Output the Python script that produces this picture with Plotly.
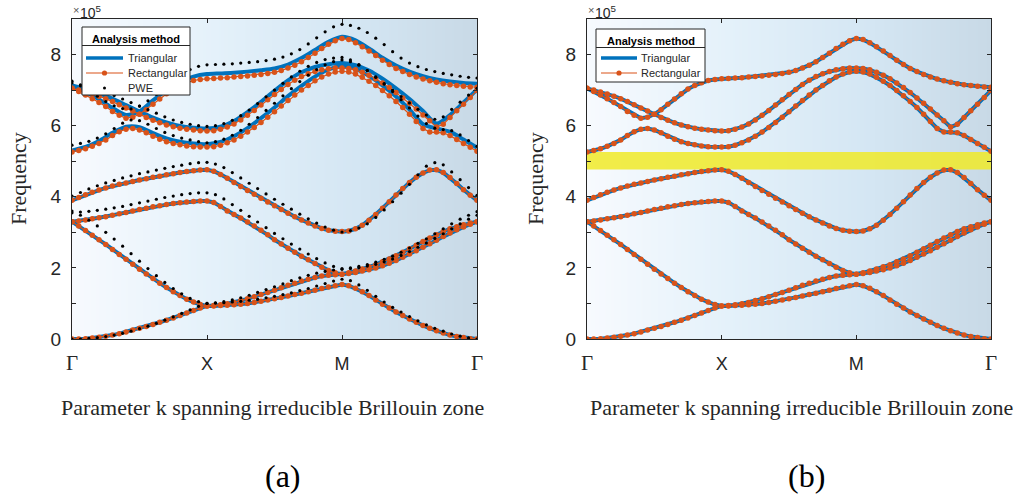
import numpy as np
import plotly.graph_objects as go

W, H = 1036, 501

# ---------------- data (frequencies in units of 1e5) ----------------
# k-path sampling: 0 = Gamma, 1 = X, 2 = M, 3 = Gamma
K_FINE = np.round(np.arange(61) * 0.05, 4)
K_TRI = np.round(np.arange(31) * 0.1, 4)
K_PWE = np.round(np.arange(49) / 16.0, 4)

tick_pos = [0, 1, 2, 3]
tick_names = ["Γ", "X", "M", "Γ"]
freq_major = [0, 2, 4, 6, 8]
freq_labels = ["0", "2", "4", "6", "8"]
freq_minor = [1, 3, 5, 7, 9]
gap_low, gap_high = 4.77, 5.26

# Rectangular-element bands (same in both panels)
rect_b1 = [0.00, 0.00, 0.01, 0.03, 0.05, 0.08, 0.11, 0.15, 0.20, 0.25, 0.30, 0.35, 0.41, 0.47, 0.53, 0.59, 0.66, 0.73, 0.80, 0.87, 0.93,
           0.93, 0.94, 0.95, 0.96, 0.98, 1.00, 1.03, 1.06, 1.10, 1.13, 1.17, 1.21, 1.25, 1.29, 1.33, 1.37, 1.42, 1.46, 1.50, 1.53,
           1.50, 1.43, 1.33, 1.22, 1.10, 0.98, 0.87, 0.76, 0.66, 0.56, 0.47, 0.38, 0.30, 0.23, 0.17, 0.11, 0.07, 0.04, 0.01, 0.00]
rect_b2 = [3.30, 3.18, 3.05, 2.92, 2.79, 2.66, 2.52, 2.38, 2.24, 2.10, 1.96, 1.83, 1.70, 1.57, 1.45, 1.33, 1.22, 1.12, 1.04, 0.97, 0.93,
           0.94, 0.96, 0.99, 1.03, 1.08, 1.13, 1.19, 1.25, 1.31, 1.37, 1.44, 1.51, 1.57, 1.63, 1.68, 1.73, 1.77, 1.79, 1.81, 1.82,
           1.84, 1.87, 1.91, 1.95, 2.00, 2.06, 2.13, 2.21, 2.30, 2.39, 2.48, 2.58, 2.68, 2.78, 2.88, 2.98, 3.07, 3.15, 3.23, 3.30]
rect_b3 = [3.30, 3.32, 3.35, 3.38, 3.41, 3.44, 3.48, 3.52, 3.56, 3.60, 3.64, 3.68, 3.72, 3.75, 3.78, 3.81, 3.83, 3.85, 3.87, 3.88, 3.88,
           3.84, 3.73, 3.60, 3.50, 3.40, 3.29, 3.18, 3.06, 2.93, 2.79, 2.67, 2.55, 2.44, 2.33, 2.23, 2.12, 2.02, 1.93, 1.86, 1.82,
           1.86, 1.91, 1.97, 2.03, 2.09, 2.17, 2.25, 2.34, 2.44, 2.54, 2.64, 2.74, 2.84, 2.93, 3.02, 3.10, 3.16, 3.21, 3.26, 3.30]
rect_b4 = [3.90, 3.98, 4.06, 4.13, 4.19, 4.25, 4.30, 4.35, 4.39, 4.43, 4.47, 4.51, 4.55, 4.58, 4.62, 4.65, 4.68, 4.71, 4.73, 4.75, 4.76,
           4.72, 4.63, 4.52, 4.40, 4.29, 4.18, 4.07, 3.96, 3.85, 3.75, 3.64, 3.54, 3.44, 3.35, 3.26, 3.18, 3.11, 3.06, 3.03, 3.02,
           3.04, 3.10, 3.20, 3.34, 3.50, 3.68, 3.86, 4.05, 4.23, 4.40, 4.55, 4.67, 4.75, 4.76, 4.68, 4.54, 4.37, 4.20, 4.04, 3.90]
rect_b5 = [5.26, 5.30, 5.35, 5.42, 5.50, 5.60, 5.72, 5.83, 5.90, 5.92, 5.88, 5.80, 5.70, 5.62, 5.55, 5.50, 5.46, 5.43, 5.41, 5.40, 5.40,
           5.41, 5.45, 5.52, 5.60, 5.70, 5.82, 5.95, 6.09, 6.24, 6.39, 6.55, 6.71, 6.86, 7.00, 7.13, 7.26, 7.37, 7.45, 7.51, 7.53,
           7.51, 7.45, 7.36, 7.25, 7.13, 6.99, 6.84, 6.68, 6.51, 6.32, 6.12, 5.92, 5.82, 5.82, 5.80, 5.72, 5.61, 5.50, 5.39, 5.28]
rect_b6 = [7.05, 7.00, 6.95, 6.89, 6.83, 6.76, 6.68, 6.59, 6.50, 6.41, 6.32, 6.23, 6.15, 6.08, 6.02, 5.97, 5.93, 5.90, 5.88, 5.86, 5.85,
           5.86, 5.90, 5.96, 6.05, 6.16, 6.29, 6.43, 6.58, 6.73, 6.88, 7.02, 7.16, 7.28, 7.38, 7.46, 7.52, 7.57, 7.60, 7.62, 7.62,
           7.61, 7.57, 7.50, 7.42, 7.32, 7.20, 7.07, 6.93, 6.78, 6.63, 6.47, 6.30, 6.14, 5.96, 6.04, 6.23, 6.42, 6.60, 6.79, 6.99]
rect_b7 = [7.05, 6.96, 6.86, 6.76, 6.65, 6.54, 6.40, 6.29, 6.21, 6.24, 6.32, 6.45, 6.60, 6.75, 6.90, 7.03, 7.13, 7.21, 7.27, 7.30, 7.32,
           7.33, 7.34, 7.35, 7.37, 7.38, 7.40, 7.42, 7.44, 7.47, 7.50, 7.55, 7.62, 7.70, 7.80, 7.92, 8.04, 8.17, 8.29, 8.39, 8.45,
           8.42, 8.33, 8.22, 8.10, 7.97, 7.84, 7.72, 7.61, 7.52, 7.44, 7.37, 7.31, 7.26, 7.22, 7.18, 7.15, 7.13, 7.11, 7.09, 7.08]

# Triangular-element upper bands in panel (a) (lower bands coincide with rect)
tri_a_b5 = [5.30, 5.40, 5.57, 5.80, 5.97, 5.96, 5.79, 5.64, 5.55, 5.50, 5.48,
            5.54, 5.70, 5.93, 6.21, 6.51, 6.83, 7.12, 7.38, 7.58, 7.68,
            7.60, 7.40, 7.13, 6.82, 6.45, 6.04, 5.92, 5.83, 5.61, 5.38]
tri_a_b6 = [7.13, 7.03, 6.91, 6.76, 6.58, 6.40, 6.23, 6.09, 5.99, 5.94, 5.92,
            5.97, 6.13, 6.38, 6.67, 6.98, 7.27, 7.50, 7.65, 7.73, 7.76,
            7.70, 7.55, 7.32, 7.05, 6.75, 6.41, 6.06, 6.30, 6.65, 7.02]
tri_a_b7 = [7.13, 6.95, 6.74, 6.50, 6.30, 6.40, 6.71, 7.00, 7.24, 7.38, 7.45,
            7.47, 7.49, 7.52, 7.56, 7.61, 7.72, 7.90, 8.13, 8.36, 8.50,
            8.40, 8.17, 7.91, 7.69, 7.52, 7.39, 7.30, 7.24, 7.20, 7.18]

# PWE reference (panel a)
pwe_b1 = [0.00, 0.00, 0.02, 0.04, 0.07, 0.11, 0.16, 0.22, 0.29, 0.36, 0.44, 0.53, 0.62, 0.72, 0.82, 0.92, 1.00,
          1.01, 1.02, 1.04, 1.06, 1.09, 1.12, 1.16, 1.20, 1.25, 1.30, 1.36, 1.42, 1.49, 1.56, 1.63, 1.68,
          1.64, 1.52, 1.37, 1.20, 1.04, 0.89, 0.76, 0.63, 0.51, 0.40, 0.30, 0.22, 0.14, 0.08, 0.03, 0.00]
pwe_b2 = [3.60, 3.48, 3.34, 3.18, 3.00, 2.81, 2.61, 2.40, 2.19, 1.98, 1.78, 1.59, 1.42, 1.27, 1.14, 1.05, 1.00,
          1.02, 1.05, 1.10, 1.16, 1.23, 1.31, 1.39, 1.47, 1.55, 1.64, 1.72, 1.79, 1.85, 1.90, 1.94, 1.96,
          1.98, 2.01, 2.05, 2.10, 2.17, 2.25, 2.35, 2.46, 2.58, 2.70, 2.83, 2.96, 3.10, 3.24, 3.37, 3.48]
pwe_b3 = [3.55, 3.57, 3.59, 3.62, 3.65, 3.69, 3.73, 3.78, 3.83, 3.88, 3.93, 3.98, 4.02, 4.06, 4.09, 4.11, 4.11,
          4.06, 3.94, 3.78, 3.62, 3.45, 3.29, 3.13, 2.97, 2.82, 2.67, 2.53, 2.39, 2.26, 2.14, 2.04, 1.98,
          2.00, 2.04, 2.09, 2.16, 2.24, 2.33, 2.44, 2.56, 2.69, 2.82, 2.96, 3.10, 3.24, 3.37, 3.48, 3.58]
pwe_b4 = [4.02, 4.12, 4.22, 4.31, 4.39, 4.46, 4.53, 4.59, 4.65, 4.70, 4.75, 4.80, 4.85, 4.89, 4.93, 4.96, 4.97,
          4.92, 4.82, 4.68, 4.53, 4.38, 4.23, 4.08, 3.93, 3.79, 3.65, 3.51, 3.38, 3.26, 3.15, 3.06, 3.01,
          3.05, 3.12, 3.24, 3.42, 3.63, 3.86, 4.10, 4.35, 4.62, 4.86, 4.96, 4.90, 4.70, 4.48, 4.26, 4.04]
pwe_b5 = [5.45, 5.50, 5.56, 5.65, 5.77, 5.92, 6.07, 6.16, 6.14, 6.04, 5.92, 5.81, 5.72, 5.65, 5.60, 5.55, 5.52,
          5.55, 5.62, 5.73, 5.87, 6.04, 6.23, 6.43, 6.63, 6.84, 7.04, 7.24, 7.42, 7.58, 7.71, 7.80, 7.85,
          7.80, 7.70, 7.55, 7.37, 7.17, 6.96, 6.73, 6.50, 6.27, 6.06, 5.93, 5.89, 5.86, 5.74, 5.58, 5.42]
pwe_b6 = [7.20, 7.15, 7.09, 7.02, 6.94, 6.85, 6.75, 6.65, 6.55, 6.45, 6.35, 6.25, 6.16, 6.09, 6.04, 6.00, 5.98,
          6.00, 6.06, 6.15, 6.28, 6.44, 6.62, 6.81, 7.00, 7.19, 7.37, 7.53, 7.67, 7.78, 7.86, 7.90, 7.92,
          7.85, 7.72, 7.55, 7.36, 7.18, 7.00, 6.82, 6.64, 6.46, 6.30, 6.18, 6.25, 6.46, 6.66, 6.86, 7.05]
pwe_b7 = [7.25, 7.12, 6.98, 6.83, 6.68, 6.56, 6.48, 6.47, 6.55, 6.70, 6.88, 7.07, 7.26, 7.44, 7.58, 7.67, 7.71,
          7.72, 7.73, 7.74, 7.76, 7.78, 7.80, 7.83, 7.87, 7.93, 8.02, 8.14, 8.30, 8.47, 8.64, 8.78, 8.85,
          8.82, 8.74, 8.62, 8.46, 8.28, 8.08, 7.90, 7.76, 7.66, 7.58, 7.52, 7.47, 7.43, 7.39, 7.36, 7.34]

rect_bands = [rect_b1, rect_b2, rect_b3, rect_b4, rect_b5, rect_b6, rect_b7]
tri_a_upper = [tri_a_b5, tri_a_b6, tri_a_b7]
pwe_bands = [pwe_b1, pwe_b2, pwe_b3, pwe_b4, pwe_b5, pwe_b6, pwe_b7]

# ---------------- styling ----------------
BLUE = "#0072BD"
ORANGE = "#D95319"
AX = "#262626"
SANS = "Liberation Sans, Arial, sans-serif"
SERIF = "Liberation Serif, Times New Roman, serif"
bg_scale = [[0.0, "rgb(247,250,254)"], [0.35, "rgb(228,241,250)"],
            [0.7, "rgb(212,230,243)"], [1.0, "rgb(200,217,230)"]]


def px_x(p):
    return p / W


def px_y(p):
    return 1 - p / H


def joined(kgrid, bands):
    xs, ys = [], []
    for b in bands:
        xs += list(kgrid) + [None]
        ys += list(b) + [None]
    return xs, ys


fig = go.Figure()

for xa, ya in [("x", "y"), ("x2", "y2")]:
    fig.add_trace(go.Heatmap(x=[0, 3], y=[0, 9], z=[[0, 1], [0, 1]], zmin=0, zmax=1,
                             zsmooth="best", colorscale=bg_scale, showscale=False,
                             hoverinfo="skip", xaxis=xa, yaxis=ya))

# band-gap highlight (panel b)
fig.add_trace(go.Scatter(x=[0, 3, 3, 0, 0], y=[gap_low, gap_low, gap_high, gap_high, gap_low],
                         fill="toself", fillcolor="rgba(240,234,40,0.85)", mode="lines",
                         line=dict(width=0), hoverinfo="skip", showlegend=False,
                         xaxis="x2", yaxis="y2"))

# ---- panel (a)
x, y = joined(K_FINE, rect_bands[:4])
fig.add_trace(go.Scatter(x=x, y=y, mode="lines", line=dict(color=BLUE, width=4),
                         name="Triangular", showlegend=False, xaxis="x", yaxis="y"))
x, y = joined(K_TRI, tri_a_upper)
fig.add_trace(go.Scatter(x=x, y=y, mode="lines", line=dict(color=BLUE, width=4, shape="spline", smoothing=0.7),
                         name="Triangular", showlegend=False, xaxis="x", yaxis="y"))
x, y = joined(K_FINE, rect_bands)
fig.add_trace(go.Scatter(x=x, y=y, mode="lines+markers", line=dict(color=ORANGE, width=1.2),
                         marker=dict(size=5.5, color=ORANGE), name="Rectangular",
                         showlegend=False, xaxis="x", yaxis="y"))
x, y = joined(K_PWE, pwe_bands)
fig.add_trace(go.Scatter(x=x, y=y, mode="markers", marker=dict(size=3.2, color="black"),
                         name="PWE", showlegend=False, xaxis="x", yaxis="y"))

# ---- panel (b)
x, y = joined(K_FINE, rect_bands)
fig.add_trace(go.Scatter(x=x, y=y, mode="lines", line=dict(color=BLUE, width=4),
                         name="Triangular", showlegend=False, xaxis="x2", yaxis="y2"))
fig.add_trace(go.Scatter(x=x, y=y, mode="lines+markers", line=dict(color=ORANGE, width=1.2),
                         marker=dict(size=5.5, color=ORANGE), name="Rectangular",
                         showlegend=False, xaxis="x2", yaxis="y2"))

gamma = '<span style="font-family:Liberation Serif;font-size:21px">Γ</span>'
xticktext = [gamma if t == "Γ" else t for t in tick_names]

common_x = dict(range=[0, 3], tickmode="array", tickvals=tick_pos, ticktext=xticktext,
                ticks="inside", ticklen=4, tickcolor=AX, showline=True, linecolor=AX,
                linewidth=1, mirror="ticks", showgrid=False, zeroline=False,
                tickfont=dict(family=SANS, size=18, color=AX), ticklabelstandoff=8,
                fixedrange=True, automargin=False)
common_y = dict(range=[0, 9], tickmode="array", tickvals=freq_major, ticktext=freq_labels,
                ticks="inside", ticklen=4, tickcolor=AX, showline=True, linecolor=AX,
                linewidth=1, mirror="ticks", showgrid=False, zeroline=False,
                tickfont=dict(family=SANS, size=19, color=AX), ticklabelstandoff=6,
                minor=dict(tickmode="array", tickvals=freq_minor, ticks="inside", ticklen=4,
                           tickcolor=AX, showgrid=False),
                fixedrange=True, automargin=False)

ydom = [px_y(339), px_y(19)]
fig.update_layout(
    width=W, height=H, autosize=False,
    margin=dict(l=0, r=0, t=0, b=0, pad=0),
    paper_bgcolor="white", plot_bgcolor="white",
    showlegend=False,
    xaxis=dict(domain=[px_x(72), px_x(477)], anchor="y", **common_x),
    yaxis=dict(domain=ydom, anchor="x", **common_y),
    xaxis2=dict(domain=[px_x(587), px_x(991)], anchor="y2", **common_x),
    yaxis2=dict(domain=ydom, anchor="x2", **common_y),
)

ann = []
shapes = []


def text_at(px, py, text, font, xanchor="center", yanchor="middle", **kw):
    ann.append(dict(x=px_x(px), y=px_y(py), xref="paper", yref="paper", text=text,
                    showarrow=False, xanchor=xanchor, yanchor=yanchor, font=font, **kw))


for cx, ylab_x, xlab_x, letter, letter_x in [(72, 18, 272, "(a)", 283), (587, 535, 801, "(b)", 806)]:
    text_at(ylab_x, 179, "Frequency", dict(family=SERIF, size=22, color=AX), textangle=-90)
    text_at(xlab_x, 407, "Parameter k spanning irreducible Brillouin zone",
            dict(family=SERIF, size=22, color=AX))
    text_at(letter_x, 476, letter, dict(family=SERIF, size=32, color="black"))
    text_at(cx - 1, 10, "×", dict(family=SANS, size=11, color="#555555"), xanchor="left")
    text_at(cx + 6, 1, "10<sup>5</sup>", dict(family=SANS, size=14, color=AX),
            xanchor="left", yanchor="top")


def legend_box(x0, x1, y0, y1, title_y, sep_y, entries, sx0, sx1, tx):
    shapes.append(dict(type="rect", xref="paper", yref="paper", x0=px_x(x0), x1=px_x(x1),
                       y0=px_y(y1), y1=px_y(y0), fillcolor="white", line=dict(color=AX, width=1)))
    shapes.append(dict(type="line", xref="paper", yref="paper", x0=px_x(x0), x1=px_x(x1),
                       y0=px_y(sep_y), y1=px_y(sep_y), line=dict(color=AX, width=1)))
    text_at((x0 + x1) / 2, title_y, "<b>Analysis method</b>", dict(family=SANS, size=11, color="black"))
    for name, ey in entries:
        cxm = (sx0 + sx1) / 2
        if name == "Triangular":
            shapes.append(dict(type="line", xref="paper", yref="paper", x0=px_x(sx0), x1=px_x(sx1),
                               y0=px_y(ey), y1=px_y(ey), line=dict(color=BLUE, width=3.5)))
        elif name == "Rectangular":
            shapes.append(dict(type="line", xref="paper", yref="paper", x0=px_x(sx0), x1=px_x(sx1),
                               y0=px_y(ey), y1=px_y(ey), line=dict(color=ORANGE, width=1.2)))
            shapes.append(dict(type="circle", xref="paper", yref="paper", x0=px_x(cxm - 2.6),
                               x1=px_x(cxm + 2.6), y0=px_y(ey + 2.6), y1=px_y(ey - 2.6),
                               fillcolor=ORANGE, line=dict(width=0)))
        else:
            shapes.append(dict(type="circle", xref="paper", yref="paper", x0=px_x(cxm - 1.5),
                               x1=px_x(cxm + 1.5), y0=px_y(ey + 1.5), y1=px_y(ey - 1.5),
                               fillcolor="black", line=dict(width=0)))
        text_at(tx, ey, name, dict(family=SANS, size=11, color=AX), xanchor="left")


legend_box(82, 190, 27, 95, 39, 45.5, [("Triangular", 58), ("Rectangular", 73), ("PWE", 88)], 86, 123, 126)
legend_box(596, 705, 29, 82, 41, 47.5, [("Triangular", 58), ("Rectangular", 73)], 601, 637, 639)

fig.update_layout(annotations=ann, shapes=shapes)
fig.write_html("out.html", config={"displayModeBar": False},
               post_script="document.body.style.margin='0px';document.body.style.padding='0px';")
